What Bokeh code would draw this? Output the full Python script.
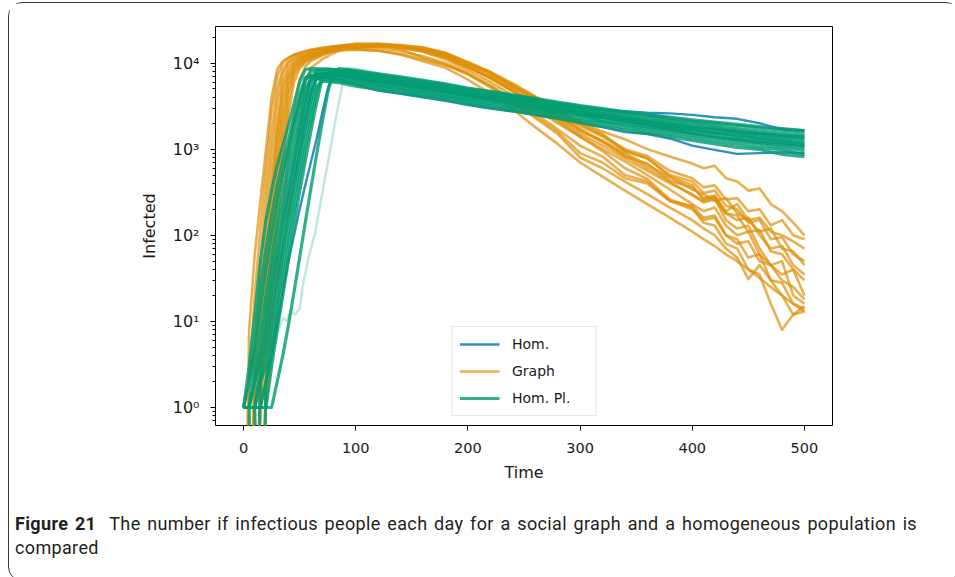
from bokeh.plotting import figure
from bokeh.models import FixedTicker, Legend, LegendItem, Div, Range1d
from bokeh.layouts import column
from bokeh.embed import file_html
from bokeh.resources import INLINE

# ---------------- data: daily infected counts per simulation run ----------------
graph_days = [0, 5, 10, 15, 20, 25, 30, 35, 40, 45, 50, 55, 60, 70, 80, 90,
              100, 120, 140, 160, 180, 200, 220, 240, 260, 280, 300, 320, 340, 360, 380,
              400, 410, 420, 430, 440, 450, 460, 470, 480, 490, 500]

graph_runs = [
    [0, 8, 60, 250, 1000, 4000, 8500, 10500, 11500, 12500, 13000, 13500, 14000, 14800, 15500, 16000,
     16500, 16000, 14500, 11500, 9500, 7500, 5500, 3800, 2600, 1700, 1100, 820, 500, 420, 250, 200,
     150, 160, 100, 80, 85, 50, 45, 30, 25, 18],
    [0, 2, 20, 120, 600, 2800, 7000, 10000, 11500, 12500, 13200, 13800, 14300, 15000, 15600, 16200,
     16800, 16800, 16200, 15200, 12800, 9800, 7900, 5300, 4000, 2700, 2100, 1600, 1300, 1000, 820, 680,
     600, 640, 460, 420, 330, 350, 230, 190, 140, 100],
    [0, 0, 6, 50, 300, 1500, 5000, 8500, 10500, 11800, 12600, 13300, 13900, 14800, 15500, 16000,
     16200, 16500, 15800, 14200, 12000, 9000, 6800, 4800, 3300, 2300, 1600, 1250, 820, 680, 430, 360,
     270, 290, 190, 230, 150, 110, 120, 70, 65, 45],
    [0, 0, 3, 25, 150, 800, 3500, 7500, 10000, 11200, 12000, 12800, 13400, 14400, 15300, 15900,
     15800, 16300, 15500, 13500, 11000, 8200, 6000, 4200, 2900, 2000, 1400, 1000, 720, 500, 340, 230,
     190, 210, 130, 100, 110, 60, 45, 35, 40, 20],
    [0, 0, 2, 12, 80, 400, 2000, 6000, 9000, 10500, 11500, 12300, 13000, 13600, 14400, 14900,
     15000, 14800, 13800, 12000, 10000, 7600, 5400, 3700, 2400, 1600, 900, 700, 460, 400, 250, 220,
     160, 170, 100, 90, 55, 60, 30, 28, 16, 14],
    [0, 0, 1, 8, 50, 300, 1500, 5000, 8000, 10000, 11200, 12000, 12800, 13000, 13800, 14300,
     14500, 14000, 12500, 10500, 8800, 6400, 4400, 2900, 1800, 1150, 700, 480, 330, 230, 160, 110,
     90, 75, 60, 50, 40, 32, 25, 20, 16, 13],
    [0, 0, 0, 4, 30, 200, 1000, 3800, 7200, 9500, 10800, 11800, 12600, 13700, 14700, 15400,
     15300, 15700, 15000, 13600, 11500, 8800, 6600, 4700, 3200, 2200, 1500, 1100, 780, 560, 400, 300,
     240, 260, 180, 150, 160, 100, 70, 75, 45, 35],
    [0, 0, 0, 3, 20, 120, 700, 2800, 6500, 9000, 10500, 11500, 12300, 13500, 14500, 15300,
     15200, 15900, 15500, 14300, 12300, 9500, 7200, 5200, 3700, 2600, 1850, 1400, 950, 780, 500, 420,
     310, 330, 220, 200, 140, 150, 90, 95, 60, 50],
    [0, 0, 0, 2, 12, 80, 450, 2000, 5500, 8500, 10000, 11000, 11900, 12800, 13600, 14100,
     14300, 13800, 12800, 11000, 9500, 7400, 5200, 3500, 2300, 1500, 800, 600, 420, 300, 210, 150,
     120, 100, 70, 55, 31, 45, 30, 20, 12, 13],
    [0, 0, 0, 1, 8, 50, 300, 1400, 4500, 7800, 9600, 10700, 11600, 13000, 14200, 15200,
     15200, 15700, 15200, 13800, 11700, 9000, 6800, 4900, 3400, 2400, 1700, 1250, 900, 650, 470, 340,
     300, 250, 270, 180, 150, 160, 110, 100, 85, 70],
    [0, 0, 0, 1, 5, 30, 200, 900, 3500, 7200, 9200, 10500, 11400, 12900, 14200, 15300,
     15300, 15900, 15600, 14700, 12900, 10000, 7700, 5600, 4000, 2800, 1950, 1450, 1000, 830, 560, 460,
     360, 380, 260, 270, 190, 200, 130, 150, 100, 90],
    [0, 0, 0, 0, 3, 20, 120, 600, 2500, 6000, 8600, 10000, 11000, 12600, 14000, 15200,
     15200, 16000, 15700, 14800, 13000, 10000, 7500, 5400, 3700, 2500, 1700, 1200, 850, 600, 420, 290,
     250, 270, 150, 120, 130, 70, 45, 50, 20, 16],
    [0, 0, 0, 0, 2, 8, 40, 200, 800, 2800, 6500, 9000, 10500, 12200, 13800, 15000,
     15300, 16200, 15800, 14600, 12200, 9200, 6700, 4700, 3200, 2100, 1400, 950, 600, 450, 260, 210,
     140, 130, 80, 70, 40, 35, 16, 8, 12, 15],
    [0, 0, 0, 0, 1, 4, 15, 60, 200, 700, 2000, 6000, 8800, 11000, 13000, 14800,
     15400, 16300, 16000, 15000, 13200, 10300, 7900, 5800, 4100, 2900, 2000, 1500, 960, 780, 480, 380,
     260, 280, 180, 170, 110, 115, 65, 60, 40, 30],
]

hom_days = [0, 5, 10, 15, 20, 25, 30, 35, 40, 45, 50, 55, 60, 65, 70, 75, 80, 85, 90,
            100, 120, 140, 160, 180, 200, 220, 240, 260, 280, 300, 320, 340, 360, 380,
            400, 420, 440, 460, 480, 500]

hom_runs = [
    [1, 1, 1, 1, 2, 4, 9, 22, 50, 100, 200, 380, 700, 1300, 2600, 5000, 7600, 7900, 7800,
     7500, 6900, 6300, 5750, 5250, 4700, 4300, 3900, 3550, 3250, 3000, 2850, 2750, 2650, 2600,
     2500, 2350, 2250, 2000, 1700, 1650],
    [1, 2, 5, 14, 40, 120, 260, 500, 1000, 2000, 3800, 6500, 7000, 6900, 6800, 6700, 6500, 6300, 6100,
     5600, 4800, 4400, 4000, 3650, 3250, 2950, 2750, 2500, 2250, 2000, 1800, 1580, 1500, 1330,
     1100, 980, 880, 900, 920, 900],
    [1, 1, 2, 4, 9, 22, 55, 130, 300, 700, 1600, 3500, 6500, 7400, 7400, 7300, 7200, 7100, 7000,
     6600, 6000, 5500, 5050, 4600, 4150, 3750, 3400, 3100, 2800, 2520, 2300, 2100, 1900, 1700,
     1520, 1380, 1300, 1220, 1150, 1080],
    [1, 1, 1, 2, 5, 12, 30, 75, 180, 420, 950, 2100, 4400, 7000, 7600, 7600, 7500, 7400, 7300,
     7000, 6400, 5900, 5350, 4900, 4400, 4000, 3650, 3300, 3000, 2700, 2480, 2280, 2100, 1950,
     1800, 1700, 1600, 1520, 1450, 1400],
]

hom_pl_runs = [
    [1, 3, 12, 50, 150, 330, 650, 1100, 1900, 3400, 6000, 8400, 8600, 8600, 8500, 8500, 8400, 8300, 8200,
     8000, 7300, 6700, 6150, 5600, 5000, 4600, 4150, 3800, 3450, 3150, 2900, 2650, 2500, 2280,
     2120, 2000, 1880, 1760, 1660, 1580],
    [1, 2, 6, 25, 70, 170, 380, 750, 1300, 2400, 4300, 6800, 7200, 7100, 7000, 6900, 6800, 6700, 6500,
     6250, 5650, 5200, 4750, 4300, 3850, 3550, 3200, 2920, 2650, 2450, 2120, 1980, 1810, 1660,
     1520, 1400, 1290, 1190, 1110, 1030],
    [1, 1, 4, 14, 40, 100, 240, 520, 1000, 1900, 3500, 6200, 8000, 8100, 8000, 7900, 7800, 7700, 7500,
     7350, 6700, 6150, 5600, 5150, 4580, 4200, 3800, 3480, 3150, 2840, 2610, 2390, 2200, 2030,
     1870, 1740, 1610, 1500, 1420, 1340],
    [1, 1, 2, 7, 20, 55, 140, 330, 700, 1400, 2700, 5000, 6500, 6600, 6500, 6400, 6300, 6200, 6000,
     5700, 5200, 4750, 4300, 3950, 3520, 3200, 2900, 2650, 2390, 2150, 1950, 1780, 1620, 1480,
     1350, 1240, 1140, 1050, 980, 860],
    [1, 1, 2, 4, 12, 35, 90, 220, 500, 1000, 2000, 3900, 7000, 7600, 7600, 7500, 7400, 7300, 7100,
     6850, 6200, 5750, 5200, 4750, 4250, 3870, 3530, 3200, 2900, 2620, 2400, 2200, 2020, 1860,
     1710, 1560, 1510, 1380, 1290, 1210],
    [1, 1, 1, 3, 8, 22, 60, 150, 350, 750, 1500, 3000, 5700, 8200, 8500, 8500, 8400, 8300, 8100,
     7700, 7000, 6450, 5850, 5350, 4770, 4400, 3980, 3630, 3290, 2970, 2740, 2520, 2330, 2160,
     1990, 1860, 1730, 1620, 1530, 1460],
    [1, 1, 0, 2, 5, 14, 38, 100, 240, 550, 1150, 2300, 4500, 6600, 6800, 6700, 6600, 6500, 6300,
     5950, 5420, 4980, 4540, 4130, 3700, 3380, 3070, 2800, 2530, 2280, 2080, 1900, 1730, 1590,
     1450, 1340, 1230, 1140, 1050, 960],
    [1, 1, 1, 2, 3, 9, 25, 65, 160, 380, 850, 1800, 3600, 6800, 7400, 7400, 7300, 7200, 7000,
     6700, 6100, 5600, 5100, 4650, 4150, 3800, 3450, 3150, 2850, 2570, 2350, 2150, 1970, 1820,
     1670, 1550, 1430, 1330, 1240, 1160],
    [1, 1, 1, 1, 2, 6, 16, 42, 110, 270, 620, 1350, 2800, 5300, 6100, 6100, 6000, 5900, 5700,
     5400, 4900, 4500, 4100, 3750, 3350, 3050, 2770, 2520, 2270, 2030, 1840, 1670, 1520, 1390,
     1260, 1150, 1050, 990, 870, 820],
    [1, 1, 1, 0, 2, 4, 11, 28, 75, 190, 450, 1000, 2100, 4300, 7300, 7900, 7900, 7800, 7600,
     7150, 6500, 6000, 5450, 4980, 4440, 4070, 3690, 3370, 3050, 2750, 2520, 2310, 2120, 1960,
     1800, 1680, 1560, 1460, 1370, 1300],
    [1, 1, 1, 1, 1, 3, 8, 20, 52, 130, 320, 720, 1600, 3400, 6500, 7200, 7300, 7200, 7000,
     6550, 5970, 5480, 4990, 4550, 4060, 3720, 3380, 3080, 2790, 2510, 2300, 2100, 1920, 1770,
     1620, 1500, 1380, 1280, 1190, 1110],
    [1, 1, 1, 1, 1, 1, 2, 4, 9, 22, 55, 140, 350, 850, 2000, 4500, 7800, 8600, 8500,
     8200, 7500, 6900, 6300, 5750, 5120, 4700, 4260, 3890, 3530, 3200, 2950, 2720, 2520, 2350,
     2190, 2060, 1940, 1830, 1730, 1640],
]

# one slow Hom. Pl. run that lingers near ten cases before taking off
slow_days = [0, 10, 20, 25, 30, 35, 38, 42, 46, 50, 53, 58, 64, 70, 76, 82, 88, 92,
             100, 120, 140, 160, 180, 200, 240, 280, 320, 360, 400, 440, 480, 500]
slow_run = [1, 1, 2, 4, 7, 11, 10, 13, 12, 14, 27, 55, 110, 300, 800, 2200, 5500, 8700,
            8600, 7600, 6900, 6100, 5500, 4900, 4000, 3300, 2800, 2400, 2000, 1700, 1450, 1350]

x_ticks = [0, 100, 200, 300, 400, 500]
y_ticks = [1, 10, 100, 1000, 10000]
y_tick_labels = ["10\u2070", "10\u00b9", "10\u00b2", "10\u00b3", "10\u2074"]

BLUE, ORANGE, GREEN = "#0173b2", "#de8f05", "#029e73"
ZERO_FLOOR = 1e-3  # zero counts cannot sit on a log axis; they drop off the bottom

for runs, days in ((graph_runs, graph_days), (hom_runs, hom_days), (hom_pl_runs, hom_days)):
    for r in runs:
        assert len(r) == len(days), (len(r), len(days))
assert len(slow_run) == len(slow_days)


def on_log(values):
    return [v if v > 0 else ZERO_FLOOR for v in values]


p = figure(width=947, height=487,
           x_range=Range1d(-25, 525), y_range=Range1d(0.618, 26550),
           y_axis_type="log", output_backend="svg", toolbar_location=None,
           min_border_left=206, min_border_right=124,
           min_border_top=23, min_border_bottom=65)

p.xgrid.visible = False
p.ygrid.visible = False
p.outline_line_color = "black"
p.outline_line_width = 1
p.background_fill_color = "white"
p.border_fill_color = "white"

blue_r = [p.line(hom_days, on_log(r), line_color=BLUE, line_width=2.4, line_alpha=0.8,
                 line_join="round")
          for r in hom_runs]
orange_r = [p.line(graph_days, on_log(r), line_color=ORANGE, line_width=2.6, line_alpha=0.7,
                   line_join="round")
            for r in graph_runs]
p.line(slow_days, on_log(slow_run), line_color=GREEN, line_width=2.4, line_alpha=0.25)
green_r = [p.line(hom_days, on_log(r), line_color=GREEN, line_width=3.2, line_alpha=0.82,
                  line_join="round")
           for r in hom_pl_runs]

# axes
for ax in (p.xaxis[0], p.yaxis[0]):
    ax.axis_line_color = None
    ax.major_tick_line_color = "black"
    ax.minor_tick_line_color = "black"
    ax.major_tick_in = 0
    ax.major_tick_out = 5
    ax.minor_tick_in = 0
    ax.minor_tick_out = 3
    ax.major_label_text_font = "DejaVu Sans"
    ax.major_label_text_font_size = "14.5px"
    ax.major_label_text_color = "#1a1a1a"
    ax.axis_label_text_font = "DejaVu Sans"
    ax.axis_label_text_font_size = "16px"
    ax.axis_label_text_font_style = "normal"
    ax.axis_label_text_color = "#1a1a1a"

p.xaxis.ticker = FixedTicker(ticks=x_ticks)
p.xaxis.minor_tick_line_color = None
p.xaxis.axis_label = "Time"
p.xaxis.major_label_standoff = 12
p.xaxis.axis_label_standoff = 7

minor = []
for base in (0.1, 1, 10, 100, 1000, 10000):
    minor += [base * m for m in range(2, 10)]
p.yaxis.ticker = FixedTicker(ticks=y_ticks, minor_ticks=minor)
p.yaxis.major_label_overrides = dict(zip(y_ticks, y_tick_labels))
p.yaxis.major_label_text_font_size = "16px"
p.yaxis.axis_label = "Infected"
p.yaxis.major_label_standoff = 11
p.yaxis.axis_label_standoff = 11

legend = Legend(items=[LegendItem(label="Hom.", renderers=[blue_r[0]]),
                       LegendItem(label="Graph", renderers=[orange_r[0]]),
                       LegendItem(label="Hom. Pl.", renderers=[green_r[0]])],
                location="bottom_center", margin=9, padding=7, spacing=7,
                glyph_width=40, glyph_height=20, label_standoff=13, label_width=76,
                label_text_font="DejaVu Sans", label_text_font_size="14px",
                label_text_color="#1a1a1a",
                border_line_color="#cccccc", border_line_width=1,
                background_fill_color="white", background_fill_alpha=0.85)
p.add_layout(legend, "center")

caption = Div(
    text=('<div style="font-family:Roboto;font-size:18px;line-height:24px;color:#231f20;'
          'letter-spacing:0.35px;padding:17px 0 0 1px;width:903px;">'
          '<div style="text-align:justify;text-align-last:justify;white-space:normal;">'
          '<b>Figure 21</b>&nbsp; The number if infectious people each day for a social graph '
          'and a homogeneous population is</div>'
          '<div>compared</div></div>'),
    width=940, height=80)

page = column(p, caption, margin=(2, 0, 0, 8),
              styles={"border": "1px solid #3a3a3a", "border-radius": "14px"})

open("out.html", "w").write(file_html(page, INLINE))
